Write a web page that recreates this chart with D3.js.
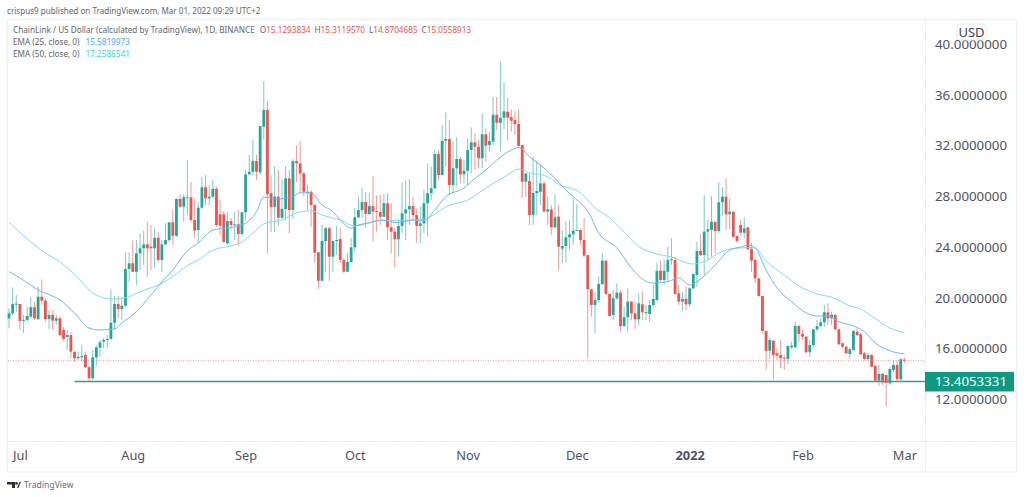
<!DOCTYPE html>
<html>
<head>
<meta charset="utf-8">
<title>LINK / USD</title>
<style>
html, body { margin: 0; padding: 0; background: #fff; overflow: hidden; }
text { font-family: "Noto Sans", "Open Sans", sans-serif; }
</style>
</head>
<body>
<script src="https://d3js.org/d3.v7.min.js"></script>
<script>
// daily candles, first one is 28 Jun 2021
var firstDay = Date.UTC(2021, 5, 28);
var lastDay = Date.UTC(2022, 2, 1);

var opens = [
18.39,18.78,19.52,19.52,18.18,18.26,18.52,19.26,18.33,20.09,
19.78,18.33,18.65,18.20,18.39,17.47,16.91,17.07,15.73,15.24,
15.31,15.49,14.53,13.66,15.31,16.07,16.54,16.68,16.76,18.04,
19.52,19.12,19.38,22.28,22.73,22.06,23.51,23.91,24.22,24.04,
23.91,24.74,22.99,24.22,24.56,25.96,24.90,27.80,27.19,27.88,
27.93,26.14,25.35,27.11,28.72,27.85,27.98,28.59,26.59,26.59,
24.30,26.06,25.75,25.80,25.04,26.75,29.74,29.95,30.79,29.90,
33.50,34.82,28.25,27.17,27.98,26.32,27.01,29.43,26.93,30.79,
30.61,29.82,28.31,28.37,27.32,23.59,21.35,24.48,25.49,23.25,
24.48,24.64,22.99,22.06,22.83,23.99,26.35,26.93,27.56,26.61,
27.24,26.85,26.77,26.40,27.46,25.57,25.22,24.62,25.67,26.67,
26.98,27.24,26.53,25.67,25.88,27.46,28.25,28.64,31.35,29.69,
32.39,32.53,28.90,30.22,30.95,29.74,30.03,31.66,32.27,31.92,
31.01,32.90,32.06,32.32,34.44,33.81,34.21,34.68,34.26,34.03,
33.71,32.06,29.16,29.22,26.53,28.25,28.37,29.03,26.80,26.98,
25.57,26.40,23.88,24.09,24.78,25.01,25.30,25.35,24.56,23.38,
20.67,19.44,19.83,21.09,22.93,20.31,18.65,19.97,20.41,17.78,
18.47,19.70,18.78,18.31,19.49,18.83,18.73,19.44,19.83,22.14,
21.41,22.06,22.99,22.99,20.36,19.70,19.91,19.49,20.75,21.80,
23.70,23.38,25.22,25.35,26.00,25.27,27.54,27.98,26.59,26.80,
24.88,25.75,25.14,25.57,23.85,22.99,21.54,20.15,17.39,15.83,
16.62,15.63,15.49,15.28,15.18,16.10,16.10,17.78,17.15,16.94,
15.71,16.28,17.52,17.78,18.07,18.86,18.39,18.65,17.52,16.42,
16.15,15.57,15.89,17.33,17.13,15.63,15.18,15.49,14.63,13.47,
14.00,13.92,13.26,14.31,14.71,13.58,15.13];

var highs = [
19.18,20.83,20.23,19.52,18.65,19.28,20.09,19.65,20.88,21.46,
19.97,19.04,19.04,18.65,18.57,17.70,17.47,17.31,15.81,15.76,
16.28,15.76,14.63,15.89,16.28,16.68,16.83,17.07,20.62,20.17,
20.17,20.05,23.59,23.59,24.56,24.56,25.09,25.30,25.96,25.75,
25.49,25.22,24.56,25.88,25.98,26.93,27.85,28.17,28.17,30.87,
29.14,27.85,27.54,29.56,29.69,28.90,29.30,28.74,27.72,26.85,
26.77,26.30,26.77,26.93,26.77,30.08,31.27,32.45,31.27,33.55,
37.10,35.55,29.69,30.40,30.08,29.30,30.40,30.08,30.95,32.00,
32.37,29.93,28.90,28.51,27.40,23.62,25.75,25.59,25.67,24.56,
25.67,25.51,23.14,23.54,24.72,27.09,27.98,28.66,28.35,28.29,
29.61,28.06,28.11,28.19,28.25,27.48,25.51,26.14,29.11,29.30,
29.35,27.98,27.06,27.19,28.56,30.56,30.34,31.66,31.66,33.63,
34.63,34.03,32.32,32.66,31.13,30.87,32.58,33.45,32.98,32.45,
34.56,33.37,33.10,35.86,35.86,38.62,37.00,35.79,34.87,34.74,
34.87,32.06,29.85,29.82,31.08,30.74,30.48,29.16,27.98,27.32,
28.19,27.32,25.35,26.06,26.14,27.88,27.40,25.43,26.30,23.38,
20.70,20.46,21.67,23.51,22.99,20.31,20.62,21.15,20.62,19.30,
20.75,19.75,19.70,20.31,20.49,19.44,19.83,21.02,22.77,22.93,
22.99,24.04,24.70,23.20,21.02,20.49,20.88,20.83,21.94,24.43,
25.04,28.11,26.14,28.03,26.00,29.11,28.72,29.43,27.85,26.80,
24.88,26.14,26.35,25.57,24.35,23.20,21.54,20.15,17.41,16.86,
16.68,16.02,16.68,15.49,16.28,16.54,18.12,17.86,17.47,16.99,
16.68,17.55,18.25,18.39,19.44,19.57,18.91,18.73,17.55,16.46,
16.20,16.10,17.47,17.60,17.23,15.73,15.63,15.57,14.71,14.71,
14.08,13.92,14.53,15.05,15.05,15.24,15.31];

var lows = [
17.60,18.65,18.91,17.47,17.23,18.10,18.39,18.25,18.25,19.44,
18.12,17.55,17.47,17.86,16.99,16.60,15.89,15.26,14.97,15.10,
14.97,14.45,13.39,13.52,14.65,15.36,16.02,16.02,16.68,17.47,
18.39,18.25,19.28,21.28,22.04,21.02,22.20,22.59,21.67,22.20,
22.36,22.83,22.06,24.17,24.41,24.17,24.80,27.09,26.00,26.53,
25.98,24.70,24.33,27.01,27.32,27.32,27.88,25.59,24.96,24.33,
24.17,25.35,24.56,24.09,24.88,26.14,29.69,29.69,29.30,29.69,
32.50,23.51,25.19,25.19,25.67,26.22,26.14,25.09,26.22,29.14,
28.27,28.03,26.93,25.59,22.80,20.70,21.33,22.04,21.33,22.04,
23.38,22.75,21.96,22.28,22.75,23.54,26.30,26.30,25.51,26.53,
24.43,25.22,25.75,26.38,24.56,23.51,22.38,23.25,25.12,24.56,
25.75,26.14,24.35,24.30,25.09,24.88,27.72,28.59,29.30,29.65,
30.34,28.11,28.25,28.77,29.03,29.03,28.90,29.82,30.08,30.22,
30.24,30.74,31.53,32.06,33.24,31.53,33.32,32.39,33.10,32.84,
31.92,27.90,27.98,25.75,25.75,26.53,27.32,26.77,25.75,24.96,
25.51,22.22,22.75,22.77,23.77,24.17,25.30,24.17,23.22,15.23,
18.52,17.21,19.67,21.02,20.23,18.49,18.25,19.83,17.33,17.70,
17.33,18.25,17.52,17.86,18.25,18.25,18.12,19.28,19.75,21.28,
21.02,21.28,22.59,20.23,19.44,18.99,19.04,19.30,20.67,20.88,
23.30,21.80,22.99,23.25,23.51,25.09,26.53,25.35,25.41,24.72,
24.35,24.96,24.70,23.77,22.06,21.15,20.09,17.21,14.31,15.18,
13.58,15.10,14.45,14.31,14.78,15.97,16.05,16.54,16.68,15.63,
15.36,16.13,17.33,17.70,17.73,17.86,17.86,17.47,16.28,16.02,
15.57,15.23,15.81,16.99,15.49,15.05,15.05,14.53,13.44,13.05,
13.13,11.42,13.13,14.15,13.47,13.39,14.87];

var closes = [
18.78,19.52,19.55,18.18,18.26,18.57,19.26,18.39,20.09,19.78,
18.33,18.65,18.20,18.39,17.07,16.76,17.07,15.76,15.24,15.34,
15.42,14.53,13.66,15.31,16.10,16.50,16.68,16.76,18.04,19.52,
19.12,19.38,22.28,22.73,22.06,23.51,23.91,24.22,23.91,23.91,
24.74,22.99,24.22,24.56,25.96,24.90,27.80,27.19,27.93,27.93,
26.14,25.30,27.11,28.72,27.85,27.98,28.59,25.75,25.69,24.41,
26.06,25.75,25.80,25.04,26.75,29.74,29.95,30.79,29.95,33.55,
34.82,28.17,27.17,27.98,26.32,27.01,29.43,26.93,30.79,30.61,
29.82,28.37,28.37,27.32,23.56,21.35,24.48,25.49,23.25,24.48,
24.56,22.99,22.06,22.83,23.99,26.35,26.93,27.56,26.61,27.24,
26.80,26.77,26.40,27.46,25.57,25.22,24.62,25.67,26.67,26.98,
27.24,26.53,25.67,25.88,27.46,28.25,28.64,31.35,29.69,32.39,
32.53,28.90,30.22,30.95,29.74,30.03,31.66,32.27,31.92,31.01,
32.90,32.00,32.37,34.44,33.81,34.21,34.71,34.21,33.97,33.71,
31.98,29.16,29.82,26.53,28.27,28.43,29.03,26.80,26.98,25.57,
26.35,24.04,24.09,24.78,25.01,25.30,25.35,24.56,23.33,20.67,
19.44,19.83,21.09,22.93,20.31,18.57,19.97,20.41,17.78,18.47,
19.70,18.78,18.31,19.57,18.86,18.89,19.44,19.91,22.14,21.41,
22.14,22.99,23.04,20.31,19.70,19.91,19.49,20.75,21.88,23.70,
23.38,25.22,25.41,26.00,25.27,27.54,27.98,26.59,26.80,24.82,
24.48,25.14,25.49,23.83,22.93,21.54,20.15,17.39,15.81,16.68,
15.49,15.44,15.24,15.24,16.20,16.23,17.78,17.15,16.94,15.71,
16.28,17.52,17.78,18.07,18.86,18.39,18.65,17.52,16.34,16.15,
15.63,15.94,17.39,17.07,15.55,15.18,15.49,14.57,13.47,14.00,
13.34,13.31,14.39,14.71,13.58,15.16,15.06];

// EMA readings: candle number and value
var ema25Days = [0,3,8,14,18,22,25,29,31,35,39,42,45,49,52,56,60,64,68,70,74,78,80,83,86,89,91,94,96,99,102,107,111,114,117,120,125,128,131,134,138,140,143,146,150,153,155,158,159,162,167,171,173,177,181,184,187,189,194,198,201,203,205,208,211,215,219,222,225,228,232,235,238,242,246];
var ema25Values = [22.06,21.57,20.62,19.83,18.81,17.62,17.47,17.55,18.02,18.91,20.23,21.25,22.20,23.70,24.33,25.35,25.51,25.75,26.80,27.95,27.80,27.98,28.29,28.27,27.32,26.80,26.14,25.51,25.75,25.93,26.14,25.93,26.14,26.09,26.93,27.98,28.66,29.43,30.08,30.87,31.66,31.87,31.13,30.48,29.43,28.51,27.98,27.19,26.85,25.12,23.93,22.36,21.72,21.17,21.28,21.57,21.02,21.28,22.59,23.77,24.01,24.17,23.93,22.20,20.78,19.70,18.83,18.57,18.57,18.12,17.78,17.33,16.44,15.83,15.58];
var ema50Days = [0,6,10,14,19,23,28,32,36,41,45,49,52,56,62,64,67,70,75,79,83,86,91,95,102,107,111,115,117,120,126,131,137,140,143,148,151,157,159,161,164,168,173,177,182,188,192,195,198,203,205,208,213,218,222,226,231,234,237,242,246];
var ema50Values = [25.96,24.41,23.54,22.85,21.59,20.38,19.91,20.01,20.49,21.02,21.67,22.54,22.99,23.77,24.17,24.41,25.12,25.83,26.14,26.69,26.87,26.53,26.14,25.67,26.09,26.12,26.14,26.30,26.61,27.17,27.72,28.66,29.69,30.16,29.87,29.56,28.96,28.27,27.72,27.09,26.53,25.51,24.05,23.54,23.22,22.67,22.99,23.54,23.85,23.96,23.93,22.91,21.80,20.78,20.31,20.05,19.38,19.12,18.57,17.62,17.26];

var priceTicks = [12, 16, 20, 24, 28, 32, 36, 40];
var monthTicks = [Date.UTC(2021,6,1), Date.UTC(2021,7,1), Date.UTC(2021,8,1), Date.UTC(2021,9,1), Date.UTC(2021,10,1), Date.UTC(2021,11,1), Date.UTC(2022,0,1), Date.UTC(2022,1,1), Date.UTC(2022,2,1)];
var monthLabels = ["Jul", "Aug", "Sep", "Oct", "Nov", "Dec", "2022", "Feb", "Mar"];
var supportStart = Date.UTC(2021, 6, 16);
var supportLevel = 13.4053331;
var lastClose = 15.0558913;

var dayMs = 86400000;
var days = d3.range(opens.length).map(function(i) { return firstDay + i * dayMs; });

var x = d3.scaleUtc().domain([firstDay, lastDay]).range([9, 904.4]);
var y = d3.scaleLinear().domain([12, 40]).range([399.3, 44.3]);

var green = "#26a69a", red = "#ef5350";
var ink = "#50535e";

var svg = d3.select("body").append("svg")
  .attr("width", 1024)
  .attr("height", 497)
  .style("display", "block");

// frame
var frame = "#e6e8ee";
svg.append("rect").attr("x", 7.5).attr("y", 19.5).attr("width", 1009).attr("height", 452.5)
  .attr("fill", "none").attr("stroke", "#eceef2").attr("stroke-width", 1.2);
svg.append("line").attr("x1", 925.5).attr("x2", 925.5).attr("y1", 20).attr("y2", 472)
  .attr("stroke", frame).attr("stroke-dasharray", "2,1");
svg.append("line").attr("x1", 8).attr("x2", 1016).attr("y1", 441.5).attr("y2", 441.5)
  .attr("stroke", frame).attr("stroke-dasharray", "2,1");

// last price and support line
svg.append("line").attr("x1", 8).attr("x2", 925).attr("y1", y(lastClose)).attr("y2", y(lastClose))
  .attr("stroke", "#f5a3a1").attr("stroke-width", 1).attr("stroke-dasharray", "1,1.5");
svg.append("line").attr("x1", x(supportStart)).attr("x2", 925).attr("y1", y(supportLevel)).attr("y2", y(supportLevel))
  .attr("stroke", "#3d9c8c").attr("stroke-width", 1.6);

// candles
var candle = svg.append("g").selectAll("g").data(days).join("g")
  .attr("fill", function(d, i) { return closes[i] >= opens[i] ? green : red; })
  .attr("stroke", function(d, i) { return closes[i] >= opens[i] ? green : red; });

candle.append("line")
  .attr("x1", function(d) { return x(d); })
  .attr("x2", function(d) { return x(d); })
  .attr("y1", function(d, i) { return y(highs[i]); })
  .attr("y2", function(d, i) { return y(lows[i]); })
  .attr("stroke-opacity", 0.6)
  .attr("stroke-width", 1);

candle.append("rect")
  .attr("x", function(d) { return x(d) - 1.4; })
  .attr("width", 2.8)
  .attr("y", function(d, i) { return y(Math.max(opens[i], closes[i])); })
  .attr("height", function(d, i) { return Math.max(1, Math.abs(y(opens[i]) - y(closes[i]))); })
  .attr("stroke", "none");

// EMAs
var emaLine = d3.line()
  .x(function(d) { return x(firstDay + d[0] * dayMs); })
  .y(function(d) { return y(d[1]); })
  .curve(d3.curveMonotoneX);

svg.append("path").datum(d3.zip(ema50Days, ema50Values))
  .attr("d", emaLine).attr("fill", "none").attr("stroke", "#7ddcee").attr("stroke-width", 1);
svg.append("path").datum(d3.zip(ema25Days, ema25Values))
  .attr("d", emaLine).attr("fill", "none").attr("stroke", "#6cb6f6").attr("stroke-width", 1);

// price axis
var priceAxis = d3.axisRight(y).tickValues(priceTicks).tickFormat(d3.format(".7f")).tickSize(0).tickPadding(0);
var gPrice = svg.append("g").attr("transform", "translate(935,0)").call(priceAxis);
gPrice.select(".domain").remove();
gPrice.selectAll("text").attr("fill", ink).style("font-size", "13.3px").style("font-family", '"Noto Sans", sans-serif');

// time axis
var timeAxis = d3.axisBottom(x).tickValues(monthTicks).tickSize(0).tickPadding(0)
  .tickFormat(function(d, i) { return monthLabels[i]; });
var gTime = svg.append("g").attr("transform", "translate(0,450.5)").call(timeAxis);
gTime.select(".domain").remove();
gTime.selectAll("text").attr("fill", ink).style("font-size", "12.8px").style("font-family", '"Noto Sans", sans-serif')
  .style("font-weight", function(d, i) { return monthLabels[i] === "2022" ? "bold" : "normal"; });

// price tag for the support line
svg.append("rect").attr("x", 925).attr("y", y(supportLevel) - 9.5).attr("width", 89).attr("height", 19.5).attr("fill", "#0d9a80");
svg.append("text").attr("x", 935).attr("y", y(supportLevel) + 4.7)
  .attr("fill", "#fff").style("font-size", "13.3px").text(d3.format(".7f")(supportLevel));

// currency badge
svg.append("rect").attr("x", 957).attr("y", 24).attr("width", 29).attr("height", 16).attr("rx", 3)
  .attr("fill", "#fff").attr("fill-opacity", 0.9).attr("stroke", "#e6e8ee");
svg.append("text").attr("x", 971.5).attr("y", 37).attr("text-anchor", "middle")
  .attr("fill", "#3f424c").style("font-size", "13px").text("USD");

// header and legend
var legendGrey = "#62656e";
svg.append("text").attr("x", 7).attr("y", 14).attr("fill", legendGrey).style("font-size", "8.1px")
  .text("crispus9 published on TradingView.com, Mar 01, 2022 09:29 UTC+2");

var title = svg.append("text").attr("x", 13).attr("y", 33).attr("fill", legendGrey).style("font-size", "8.2px");
title.append("tspan").text("ChainLink / US Dollar (calculated by TradingView), 1D, BINANCE");
[["O", "15.1293834"], ["H", "15.3119570"], ["L", "14.8704685"], ["C", "15.0558913"]].forEach(function(p, i) {
  title.append("tspan").attr("dx", i == 0 ? 5 : 4).text(p[0]);
  title.append("tspan").attr("fill", red).text(p[1]);
});

var ema1 = svg.append("text").attr("x", 13).attr("y", 45).attr("fill", legendGrey).style("font-size", "8.2px");
ema1.append("tspan").text("EMA (25, close, 0)");
ema1.append("tspan").attr("dx", 6).attr("fill", "#4aa6f5").text("15.5819973");
var ema2 = svg.append("text").attr("x", 13).attr("y", 57).attr("fill", legendGrey).style("font-size", "8.2px");
ema2.append("tspan").text("EMA (50, close, 0)");
ema2.append("tspan").attr("dx", 6).attr("fill", "#3fcfe6").text("17.2586541");

// footer logo
var logo = svg.append("g").attr("fill", "#2a2e39");
logo.append("path").attr("d", "M7 482h8v6h-3v-3.5h-5z");
logo.append("circle").attr("cx", 16.5).attr("cy", 483.3).attr("r", 1.4);
logo.append("path").attr("d", "M17 488l2.6-6h1.4l-2.6 6z");
svg.append("text").attr("x", 24).attr("y", 488).attr("fill", "#6a6d78").style("font-size", "8.6px").text("TradingView");
</script>
</body>
</html>
